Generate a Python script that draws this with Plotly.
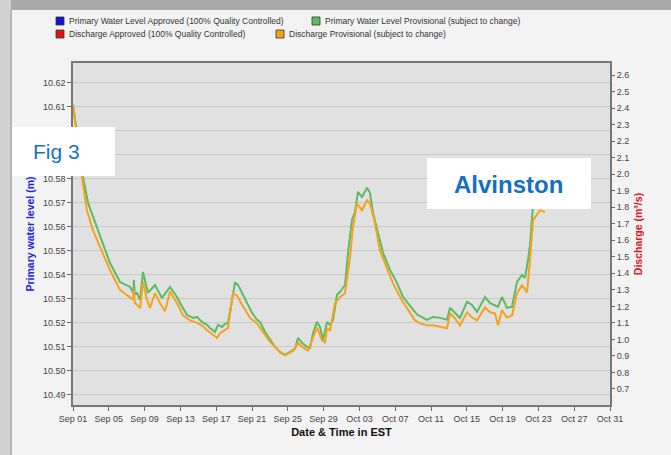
import pandas as pd
import plotly.graph_objects as go

# --- data -----------------------------------------------------------------
start = "2023-09-01"

# water level (m), provisional; time in days after Sep 01
level_days = [0, 1.12, 1.68, 2.23, 3.02, 4.13, 5.25, 6.37, 6.75, 6.8, 6.9, 7.15, 7.49,
              7.82, 8.38, 9.16, 9.94, 10.84, 11.62, 11.96, 12.74, 13.41, 13.85, 14.41,
              14.97, 15.31, 15.87, 16.20, 16.65, 16.98, 17.32, 17.77, 18.10, 18.44,
              18.88, 19.44, 20.0, 20.56, 20.89, 21.45, 22.01, 22.57, 23.13, 23.69,
              24.25, 24.80, 25.14, 25.59, 26.15, 26.48, 26.82, 27.26, 27.60, 27.93,
              28.38, 28.72, 29.05, 29.50, 29.83, 30.39, 30.73, 31.17, 31.51, 31.84,
              32.29, 32.85, 33.18, 33.52, 34.08, 34.64, 35.42, 36.2, 36.87, 37.65,
              38.44, 39.55, 40.22, 41.01, 41.79, 42.12, 42.68, 43.24, 44.02, 44.58,
              45.14, 46.03, 46.59, 47.15, 47.49, 47.93, 48.49, 49.05, 49.61, 50.17,
              50.50, 50.84, 51.06, 51.40, 51.96, 52.74]
level_m = [10.611, 10.5808, 10.570, 10.5642, 10.5558, 10.545, 10.5371, 10.535, 10.5325,
           10.538, 10.532, 10.5325, 10.5296, 10.5412, 10.5325, 10.5358, 10.5304, 10.535,
           10.5308, 10.5283, 10.5233, 10.5221, 10.5225, 10.5204, 10.5192, 10.5179,
           10.5163, 10.5192, 10.5183, 10.5196, 10.520, 10.5308, 10.5367, 10.5358,
           10.5325, 10.5283, 10.5242, 10.5213, 10.5204, 10.5163, 10.5129, 10.510,
           10.5079, 10.5067, 10.5079, 10.5092, 10.5138, 10.5117, 10.510, 10.5096,
           10.5158, 10.5204, 10.5183, 10.5129, 10.5204, 10.5192, 10.5213, 10.5317,
           10.5329, 10.5358, 10.5492, 10.5629, 10.5663, 10.5746, 10.5725, 10.5763,
           10.5742, 10.5658, 10.5575, 10.5492, 10.5421, 10.5367, 10.5308, 10.527,
           10.5235, 10.5213, 10.5225, 10.5221, 10.5213, 10.5263, 10.5242, 10.5221,
           10.5288, 10.5275, 10.5246, 10.5308, 10.5283, 10.5275, 10.5267, 10.5308,
           10.5263, 10.5267, 10.5371, 10.540, 10.5388, 10.5463, 10.5525, 10.5692,
           10.5733, 10.5733]

# discharge (m3/s), provisional; time in days after Sep 01
flow_days = [0, 1.01, 1.56, 2.23, 3.02, 4.13, 5.25, 6.03, 6.70, 6.80, 6.90, 7.15, 7.49,
             7.82, 8.27, 8.60, 9.16, 9.72, 10.28, 10.84, 11.62, 12.29, 13.07, 13.85,
             14.41, 14.97, 15.64, 16.09, 16.42, 16.98, 17.32, 17.88, 18.32, 18.99,
             19.78, 20.56, 21.23, 22.01, 22.79, 23.13, 23.69, 24.58, 25.14, 25.70,
             26.26, 26.82, 27.26, 27.82, 28.16, 28.38, 28.72, 29.27, 29.83, 30.39,
             30.95, 31.28, 31.73, 32.29, 32.85, 33.18, 33.74, 34.30, 35.08, 35.75,
             36.76, 37.65, 38.21, 38.77, 39.55, 40.22, 41.34, 41.79, 42.12, 42.68,
             43.24, 44.02, 44.58, 45.14, 46.03, 46.59, 47.15, 47.49, 47.93, 48.49,
             49.05, 49.61, 50.17, 50.73, 51.06, 51.40, 52.18, 52.74]
flow_m3s = [2.42, 1.98, 1.78, 1.66, 1.56, 1.42, 1.30, 1.27, 1.24, 1.30, 1.22, 1.21, 1.19,
            1.35, 1.24, 1.19, 1.28, 1.22, 1.17, 1.29, 1.22, 1.145, 1.115, 1.10, 1.085,
            1.055, 1.03, 1.01, 1.036, 1.055, 1.07, 1.28, 1.265, 1.20, 1.13, 1.097,
            1.042, 0.985, 0.945, 0.921, 0.903, 0.93, 0.98, 0.952, 0.933, 1.006, 1.073,
            0.994, 0.982, 1.067, 1.055, 1.218, 1.255, 1.279, 1.497, 1.679, 1.824,
            1.782, 1.842, 1.824, 1.703, 1.539, 1.436, 1.339, 1.236, 1.164, 1.115,
            1.097, 1.085, 1.085, 1.073, 1.067, 1.158, 1.127, 1.085, 1.164, 1.133,
            1.115, 1.194, 1.164, 1.158, 1.085, 1.176, 1.133, 1.145, 1.279, 1.327,
            1.285, 1.479, 1.721, 1.782, 1.770]

legend_labels = ["Primary Water Level Approved (100% Quality Controlled)",
                 "Primary Water Level Provisional (subject to change)",
                 "Discharge Approved (100% Quality Controlled)",
                 "Discharge Provisional (subject to change)"]
legend_colors = ["#1414d8", "#5dbb63", "#e01414", "#f7a21b"]

# --- figure ---------------------------------------------------------------
W, H = 671, 455
L, R, T, B = 73, 61, 63, 50
PW, PH = W - L - R, H - T - B


def px(x):
    return (x - L) / PW


def py(y):
    return (H - B - y) / PH


t0 = pd.Timestamp(start)
level_t = t0 + pd.to_timedelta(level_days, unit="D")
flow_t = t0 + pd.to_timedelta(flow_days, unit="D")

FONT = "Liberation Sans, Arial, sans-serif"

fig = go.Figure()
fig.add_trace(go.Scatter(x=flow_t, y=flow_m3s, yaxis="y2", mode="lines",
                         line=dict(color="#f7a21b", width=2), showlegend=False))
fig.add_trace(go.Scatter(x=level_t, y=level_m, mode="lines",
                         line=dict(color="#5dbb63", width=2), showlegend=False))

shapes = [
    # page frame
    dict(type="rect", xref="paper", yref="paper", x0=px(0), x1=px(W), y0=py(10), y1=py(0),
         fillcolor="#a9a9a9", line_width=0, layer="below"),
    dict(type="rect", xref="paper", yref="paper", x0=px(0), x1=px(11), y0=py(H), y1=py(0),
         fillcolor="#d2d2d2", line_width=0, layer="below"),
    dict(type="line", xref="paper", yref="paper", x0=px(11), x1=px(11), y0=py(H), y1=py(10),
         line=dict(color="#b5b5b5", width=2), layer="below"),
    # label boxes
    dict(type="rect", xref="paper", yref="paper", x0=px(12), x1=px(115), y0=py(176), y1=py(127),
         fillcolor="white", line_width=0),
    dict(type="rect", xref="paper", yref="paper", x0=px(427), x1=px(591), y0=py(209), y1=py(158),
         fillcolor="white", line_width=0),
]
annotations = [
    dict(text="Fig 3", xref="paper", yref="paper", x=px(56), y=py(151), showarrow=False,
         font=dict(family=FONT, size=21, color="#1a72c6"), xanchor="center", yanchor="middle"),
    dict(text="<b>Alvinston</b>", xref="paper", yref="paper", x=px(508), y=py(184),
         showarrow=False, font=dict(family=FONT, size=24, color="#1670c0"),
         xanchor="center", yanchor="middle"),
]

# legend rows drawn as square swatches with labels
legend_pos = [(56, 21), (312, 21), (56, 34), (276, 34)]
for (lx, ly), lab, col in zip(legend_pos, legend_labels, legend_colors):
    shapes.append(dict(type="rect", xref="paper", yref="paper", x0=px(lx), x1=px(lx + 8),
                       y0=py(ly + 4), y1=py(ly - 4), fillcolor=col,
                       line=dict(color="#333333", width=0.8)))
    annotations.append(dict(text=lab, xref="paper", yref="paper", x=px(lx + 11), y=py(ly),
                            showarrow=False, xanchor="left", yanchor="middle",
                            font=dict(family=FONT, size=8.5, color="#333333")))

fig.update_layout(
    width=W, height=H,
    margin=dict(l=L, r=R, t=T, b=B),
    paper_bgcolor="#f3f3f3",
    plot_bgcolor="#e1e1e1",
    showlegend=False,
    shapes=shapes,
    annotations=annotations,
    xaxis=dict(
        type="date", range=["2023-09-01", "2023-10-31"],
        tick0="2023-09-01", dtick=4 * 86400000, tickformat="%b %d",
        ticks="outside", ticklen=4, tickcolor="#666666",
        showline=True, linecolor="#777777", linewidth=1.5, mirror=True,
        showgrid=False, zeroline=False,
        tickfont=dict(family=FONT, size=9, color="#444444"),
        title=dict(text="<b>Date & Time in EST</b>", standoff=6,
                   font=dict(family=FONT, size=11, color="#111111")),
    ),
    yaxis=dict(
        range=[10.4858, 10.6283], dtick=0.01, tick0=10.49, tickformat=".2f",
        ticks="outside", ticklen=4, tickcolor="#666666",
        showline=True, linecolor="#777777", linewidth=1.5, mirror=True,
        showgrid=True, gridcolor="#c9c9c9", gridwidth=1, zeroline=False,
        tickfont=dict(family=FONT, size=9, color="#444444"),
        title=dict(text="<b>Primary water level (m)</b>", standoff=6,
                   font=dict(family=FONT, size=10.5, color="#2323e6")),
    ),
    yaxis2=dict(
        overlaying="y", side="right",
        range=[0.603, 2.673], dtick=0.1, tick0=0.7, tickformat=".1f",
        ticks="outside", ticklen=4, tickcolor="#666666",
        showline=False, showgrid=False, zeroline=False,
        tickfont=dict(family=FONT, size=9, color="#444444"),
        title=dict(text="<b>Discharge (m³/s)</b>", standoff=6,
                   font=dict(family=FONT, size=10.5, color="#e6141e")),
    ),
)

fig.write_html("out.html")
